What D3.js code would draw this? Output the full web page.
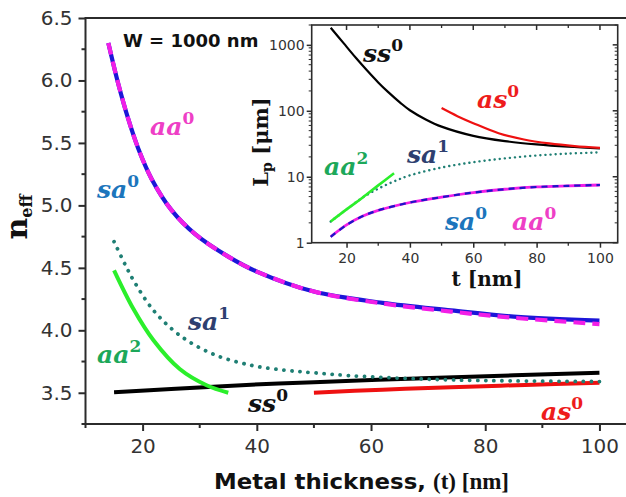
<!DOCTYPE html>
<html><head><meta charset="utf-8">
<script src="https://cdn.jsdelivr.net/npm/d3@7"></script>
<style>html,body{margin:0;padding:0;background:#fff;overflow:hidden}</style>
</head><body>
<svg id="chart" width="626" height="497"></svg>
<script>
// ---------- Main plot data (n_eff vs metal thickness) ----------
const tSa0 = [14, 15.7, 17.5, 19.2, 21.6, 25.1, 29.2, 35, 40, 50, 62, 74, 85, 100];
const nSa0 = [6.30, 5.98, 5.69, 5.46, 5.21, 4.96, 4.77, 4.59, 4.47, 4.31, 4.22, 4.16, 4.11, 4.077];
const tAa0 = [14, 15.7, 17.5, 19.2, 21.6, 25.1, 29.2, 35, 40, 50, 62, 74, 85, 100];
const nAa0 = [6.30, 5.98, 5.69, 5.46, 5.21, 4.96, 4.77, 4.59, 4.47, 4.31, 4.215, 4.15, 4.10, 4.05];
const tSa1 = [15, 16.9, 18.4, 21.9, 26.5, 32.3, 39, 45, 50, 56, 65, 74, 85, 100];
const nSa1 = [4.71, 4.53, 4.40, 4.16, 3.96, 3.81, 3.72, 3.68, 3.66, 3.638, 3.617, 3.603, 3.595, 3.59];
const tAa2 = [15, 18.4, 21.9, 26.5, 31.2, 35];
const nAa2 = [4.48, 4.17, 3.92, 3.69, 3.56, 3.50];
const tSs0 = [15, 25, 39, 50, 68, 85, 100];
const nSs0 = [3.505, 3.53, 3.565, 3.585, 3.615, 3.64, 3.66];
const tAs0 = [50, 62, 74, 87, 100];
const nAs0 = [3.50, 3.525, 3.545, 3.563, 3.58];

const mainXTicks = [20, 40, 60, 80, 100];
const mainXMinor = [10, 30, 50, 70, 90];
const mainYTicks = [3.5, 4.0, 4.5, 5.0, 5.5, 6.0, 6.5];
const mainYMinor = [3.25, 3.75, 4.25, 4.75, 5.25, 5.75, 6.25];

// ---------- Inset data (propagation length Lp vs t, log scale) ----------
const itSs0 = [15, 19, 23, 26.5, 30, 33, 37, 40, 45, 50, 60, 70, 80, 90, 100];
const iLSs0 = [1820, 1070, 631, 407, 269, 195, 132, 102, 74, 57.5, 41.7, 34.7, 30.9, 28.5, 26.9];
const itAs0 = [50, 55, 60, 68, 76, 84, 92, 100];
const iLAs0 = [110, 83, 65, 45.7, 36.7, 32, 29.2, 27.5];
const itSa1 = [15, 20, 25, 30, 35, 40, 50, 60, 70, 80, 90, 100];
const iLSa1 = [2.1, 3.2, 4.8, 6.6, 8.5, 10.5, 13.8, 16.6, 19, 21, 22.4, 23.4];
const itAa2 = [15, 20, 25, 30, 35];
const iLAa2 = [2.1, 3.2, 4.8, 7.4, 11.3];
const itSa0 = [15, 20, 25, 30, 40, 50, 60, 70, 80, 90, 100];
const iLSa0 = [1.23, 1.86, 2.51, 3.09, 4.07, 4.9, 5.75, 6.46, 7.0, 7.28, 7.5];
const iLAa0 = [1.23, 1.86, 2.51, 3.09, 4.07, 4.9, 5.75, 6.46, 7.0, 7.28, 7.5];

const insetXTicks = [20, 40, 60, 80, 100];
const insetXMinor = [30, 50, 70, 90];
const insetYTicks = [1, 10, 100, 1000];

// ---------- Drawing ----------
const svg = d3.select("#chart");
const AX = "#2b2b2b";
const smooth = d3.curveCatmullRom.alpha(0.5);

const x = d3.scaleLinear().domain([10, 105]).range([85.5, 628]);
const y = d3.scaleLinear().domain([3.25, 6.5]).range([424, 18]);

const zip = (a, b) => a.map((v, i) => [v, b[i]]);
const lineMain = d3.line().x(d => x(d[0])).y(d => y(d[1])).curve(smooth);

// frame: top line, left, bottom
svg.append("path").attr("d", `M${x(10)},${y(3.25)}V${y(6.5)}H${x(105)}`)
  .attr("fill", "none").attr("stroke", AX).attr("stroke-width", 2);
svg.append("line").attr("x1", x(10)).attr("x2", x(105)).attr("y1", y(3.25)).attr("y2", y(3.25))
  .attr("stroke", AX).attr("stroke-width", 2);

// x ticks
const gx = svg.append("g").attr("transform", `translate(0,${y(3.25)})`)
  .call(d3.axisBottom(x).tickValues(mainXTicks).tickSize(7).tickPadding(8).tickFormat(d3.format("d")));
gx.select(".domain").remove();
gx.selectAll("line").attr("stroke", AX).attr("stroke-width", 2);
gx.selectAll("text").attr("font-family", "DejaVu Sans").attr("font-size", 20).attr("fill", "#333");
svg.append("g").selectAll("line").data(mainXMinor).join("line")
  .attr("x1", d => x(d)).attr("x2", d => x(d)).attr("y1", y(3.25)).attr("y2", y(3.25) + 4)
  .attr("stroke", AX).attr("stroke-width", 2);

// y ticks
const gy = svg.append("g").attr("transform", `translate(${x(10)},0)`)
  .call(d3.axisLeft(y).tickValues(mainYTicks).tickSize(7).tickPadding(6).tickFormat(d3.format(".1f")));
gy.select(".domain").remove();
gy.selectAll("line").attr("stroke", AX).attr("stroke-width", 2);
gy.selectAll("text").attr("font-family", "DejaVu Sans").attr("font-size", 20).attr("fill", "#333");
svg.append("g").selectAll("line").data(mainYMinor).join("line")
  .attr("x1", x(10) - 4).attr("x2", x(10)).attr("y1", d => y(d)).attr("y2", d => y(d))
  .attr("stroke", AX).attr("stroke-width", 2);

// curves
svg.append("path").attr("d", lineMain(zip(tSs0, nSs0))).attr("fill", "none").attr("stroke", "#000").attr("stroke-width", 4);
svg.append("path").attr("d", lineMain(zip(tAs0, nAs0))).attr("fill", "none").attr("stroke", "#ee1111").attr("stroke-width", 4);
svg.append("path").attr("d", lineMain(zip(tAa2, nAa2))).attr("fill", "none").attr("stroke", "#2bef2b").attr("stroke-width", 4);
svg.append("path").attr("d", lineMain(zip(tSa1, nSa1))).attr("fill", "none").attr("stroke", "#1f7f74")
  .attr("stroke-width", 3.8).attr("stroke-linecap", "round").attr("stroke-dasharray", "0.1,8");
svg.append("path").attr("d", lineMain(zip(tSa0, nSa0))).attr("fill", "none").attr("stroke", "#1c16d8").attr("stroke-width", 4.2);
svg.append("path").attr("d", lineMain(zip(tAa0, nAa0))).attr("fill", "none").attr("stroke", "#f21ee6")
  .attr("stroke-width", 4.2).attr("stroke-dasharray", "12,7");

// curve labels
function label(g, lx, ly, base, sup, color) {
  const t = g.append("text").attr("x", lx).attr("y", ly).attr("fill", color)
    .attr("font-family", "DejaVu Serif").attr("font-weight", "bold").attr("font-style", "italic").attr("font-size", 25);
  t.append("tspan").text(base);
  t.append("tspan").attr("dy", -11).attr("font-size", 17).attr("font-style", "normal").text(sup);
}
label(svg, 150, 135, "aa", "0", "#ee3fc6");
label(svg, 97, 198, "sa", "0", "#1c75bc");
label(svg, 188, 330, "sa", "1", "#2e3f70");
label(svg, 97, 363, "aa", "2", "#1da85a");
label(svg, 248, 412, "ss", "0", "#111");
label(svg, 541, 420, "as", "0", "#ee1c1c");

svg.append("text").attr("x", 123).attr("y", 47).attr("font-family", "DejaVu Sans").attr("font-weight", "bold")
  .attr("font-size", 18).attr("fill", "#111").text("W = 1000 nm");

// axis titles
svg.append("text").attr("x", 214).attr("y", 489).attr("fill", "#111").attr("font-weight", "bold")
  .attr("font-family", "DejaVu Sans").attr("font-size", 21)
  .attr("textLength", 212).attr("lengthAdjust", "spacingAndGlyphs").text("Metal thickness,");
svg.append("text").attr("x", 433).attr("y", 489).attr("fill", "#111").attr("font-weight", "bold")
  .attr("font-family", "Liberation Serif").attr("font-size", 23).text("(t) [nm]");

const yt = svg.append("text").attr("transform", "translate(27,217) rotate(-90)").attr("text-anchor", "middle")
  .attr("fill", "#111").attr("font-family", "DejaVu Serif").attr("font-weight", "bold");
yt.append("tspan").attr("font-size", 30).text("n");
yt.append("tspan").attr("font-size", 16).attr("dy", 5).text("eff");

// ---------- Inset ----------
const ix = d3.scaleLinear().domain([9, 105.6]).range([311.7, 617.7]);
const iy = d3.scaleLog().domain([1, 2000]).range([242.7, 25]);
const lineIn = d3.line().x(d => ix(d[0])).y(d => iy(d[1])).curve(smooth);

svg.append("rect").attr("x", ix(9)).attr("y", iy(2000)).attr("width", ix(105.6) - ix(9)).attr("height", iy(1) - iy(2000))
  .attr("fill", "#fff").attr("stroke", AX).attr("stroke-width", 1.6);

const logMinor = [];
[1, 10, 100, 1000].forEach(dec => { for (let k = 2; k <= 9; k++) { if (dec * k <= 2000) logMinor.push(dec * k); } });

// left axis (outward)
const gil = svg.append("g").attr("transform", `translate(${ix(9)},0)`)
  .call(d3.axisLeft(iy).tickValues(insetYTicks).tickSize(5).tickPadding(2).tickFormat(d3.format("d")));
gil.select(".domain").remove();
gil.selectAll("line").attr("stroke", AX).attr("stroke-width", 1.5);
gil.selectAll("text").attr("font-family", "DejaVu Sans").attr("font-size", 14).attr("fill", "#333");
svg.append("g").selectAll("line").data(logMinor).join("line")
  .attr("x1", ix(9) - 3).attr("x2", ix(9)).attr("y1", d => iy(d)).attr("y2", d => iy(d)).attr("stroke", AX).attr("stroke-width", 1);
// right axis (inward)
svg.append("g").selectAll("line").data(insetYTicks).join("line")
  .attr("x1", ix(105.6) - 5).attr("x2", ix(105.6)).attr("y1", d => iy(d)).attr("y2", d => iy(d)).attr("stroke", AX).attr("stroke-width", 1.5);
svg.append("g").selectAll("line").data(logMinor).join("line")
  .attr("x1", ix(105.6) - 3).attr("x2", ix(105.6)).attr("y1", d => iy(d)).attr("y2", d => iy(d)).attr("stroke", AX).attr("stroke-width", 1);
// bottom axis (outward)
const gib = svg.append("g").attr("transform", `translate(0,${iy(1)})`)
  .call(d3.axisBottom(ix).tickValues(insetXTicks).tickSize(5).tickPadding(5).tickFormat(d3.format("d")));
gib.select(".domain").remove();
gib.selectAll("line").attr("stroke", AX).attr("stroke-width", 1.5);
gib.selectAll("text").attr("font-family", "DejaVu Sans").attr("font-size", 14).attr("fill", "#333");
svg.append("g").selectAll("line").data(insetXMinor).join("line")
  .attr("x1", d => ix(d)).attr("x2", d => ix(d)).attr("y1", iy(1)).attr("y2", iy(1) + 3).attr("stroke", AX).attr("stroke-width", 1.3);
// top axis (inward)
svg.append("g").selectAll("line").data(insetXTicks).join("line")
  .attr("x1", d => ix(d)).attr("x2", d => ix(d)).attr("y1", iy(2000)).attr("y2", iy(2000) + 5).attr("stroke", AX).attr("stroke-width", 1.5);
svg.append("g").selectAll("line").data(insetXMinor).join("line")
  .attr("x1", d => ix(d)).attr("x2", d => ix(d)).attr("y1", iy(2000)).attr("y2", iy(2000) + 3).attr("stroke", AX).attr("stroke-width", 1.3);

// inset curves
svg.append("path").attr("d", lineIn(zip(itSs0, iLSs0))).attr("fill", "none").attr("stroke", "#000").attr("stroke-width", 2.2);
svg.append("path").attr("d", lineIn(zip(itAs0, iLAs0))).attr("fill", "none").attr("stroke", "#ee1111").attr("stroke-width", 2.2);
svg.append("path").attr("d", lineIn(zip(itSa1, iLSa1))).attr("fill", "none").attr("stroke", "#1f7f74")
  .attr("stroke-width", 2.4).attr("stroke-linecap", "round").attr("stroke-dasharray", "0.1,5");
svg.append("path").attr("d", lineIn(zip(itAa2, iLAa2))).attr("fill", "none").attr("stroke", "#2bef2b").attr("stroke-width", 2.6);
svg.append("path").attr("d", lineIn(zip(itSa0, iLAa0))).attr("fill", "none").attr("stroke", "#f21ee6").attr("stroke-width", 2.8);
svg.append("path").attr("d", lineIn(zip(itSa0, iLSa0))).attr("fill", "none").attr("stroke", "#1c16c8")
  .attr("stroke-width", 2.2).attr("stroke-dasharray", "6,5");

label(svg, 363, 62, "ss", "0", "#111");
label(svg, 477, 108, "as", "0", "#ee1c1c");
label(svg, 407, 163, "sa", "1", "#2e3f70");
label(svg, 324, 175, "aa", "2", "#1da85a");
label(svg, 445, 230, "sa", "0", "#1c75bc");
label(svg, 512, 230, "aa", "0", "#ee3fc6");

svg.append("text").attr("x", 487).attr("y", 286).attr("text-anchor", "middle").attr("fill", "#111")
  .attr("font-family", "DejaVu Serif").attr("font-weight", "bold").attr("font-size", 20).text("t [nm]");

const iyt = svg.append("text").attr("transform", "translate(268,142) rotate(-90)").attr("text-anchor", "middle")
  .attr("fill", "#111").attr("font-family", "DejaVu Serif").attr("font-weight", "bold").attr("font-size", 21);
iyt.append("tspan").text("L");
iyt.append("tspan").attr("font-size", 14).attr("dy", 4).text("p");
iyt.append("tspan").attr("dy", -4).text(" [μm]");
</script>
</body></html>
